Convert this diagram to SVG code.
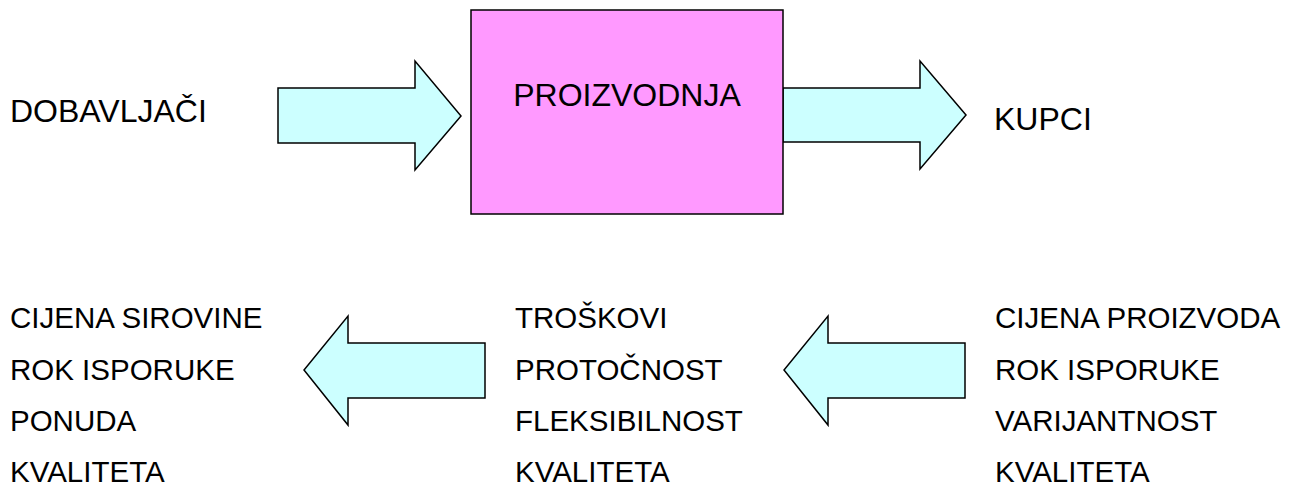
<svg xmlns="http://www.w3.org/2000/svg" width="1296" height="485" viewBox="0 0 1296 485">
<style>
.arrow{fill:#CCFFFF;stroke:#000;stroke-width:1.5;stroke-linejoin:miter}
.box{fill:#FF99FF;stroke:#000;stroke-width:1.5}
text{font-family:"Liberation Sans",Arial,sans-serif;fill:#000}
.big{font-size:32px}
.small{font-size:29.5px}
</style>
<rect width="1296" height="485" fill="#fff"/>
<g id="connectors">
<polygon class="arrow" points="278,88 415,88 415,61 461,116 415,170 415,143 278,143"/>
<polygon class="arrow" points="783,88 920,88 920,61 966,115 920,169 920,142 783,142"/>
<polygon class="arrow" points="485,343 348,343 348,316 304,370 348,425 348,398 485,398"/>
<polygon class="arrow" points="965,343 828,343 828,316 784,370 828,425 828,398 965,398"/>
</g>
<g id="proizvodnja">
<rect class="box" x="471" y="10" width="312" height="204"/>
<text class="big" x="627" y="106" text-anchor="middle">PROIZVODNJA</text>
</g>
<g id="dobavljaci">
<text class="big" x="10" y="122">DOBAVLJAČI</text>
</g>
<g id="kupci">
<text class="big" x="994" y="130">KUPCI</text>
</g>
<g id="dobavljaci-kriteriji">
<text class="small" x="10" y="328">CIJENA SIROVINE</text>
<text class="small" x="10" y="380">ROK ISPORUKE</text>
<text class="small" x="10" y="431">PONUDA</text>
<text class="small" x="10" y="482">KVALITETA</text>
</g>
<g id="proizvodnja-kriteriji">
<text class="small" x="515" y="328">TROŠKOVI</text>
<text class="small" x="515" y="380">PROTOČNOST</text>
<text class="small" x="515" y="431">FLEKSIBILNOST</text>
<text class="small" x="515" y="482">KVALITETA</text>
</g>
<g id="kupci-kriteriji">
<text class="small" x="995" y="328">CIJENA PROIZVODA</text>
<text class="small" x="995" y="380">ROK ISPORUKE</text>
<text class="small" x="995" y="431">VARIJANTNOST</text>
<text class="small" x="995" y="482">KVALITETA</text>
</g>
</svg>
